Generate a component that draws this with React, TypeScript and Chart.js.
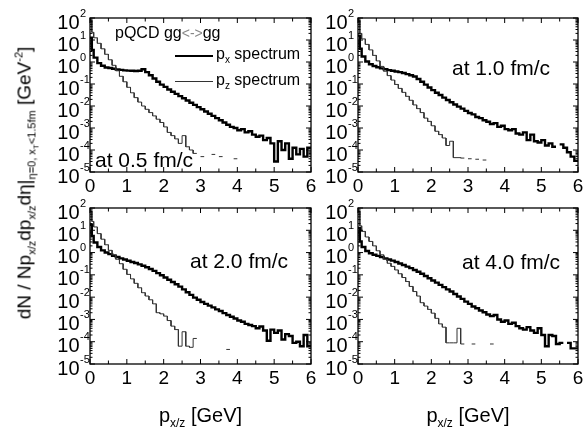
import React, { useEffect, useRef } from 'react';
import { Chart, registerables } from 'chart.js';

Chart.register(...registerables);

const W = 585;
const H = 428;
const FONT = "'Liberation Sans', Arial, Helvetica, sans-serif";

// histogram bin edges (GeV)
const binEdges = [0, 0.05, 0.1, 0.2, 0.3, 0.4, 0.5, 0.6, 0.7, 0.8, 0.9, 1.0, 1.1, 1.2, 1.3, 1.4, 1.5, 1.6, 1.7, 1.8, 1.9, 2.0, 2.1, 2.2, 2.3, 2.4, 2.5, 2.6, 2.7, 2.8, 2.9, 3.0, 3.1, 3.2, 3.3, 3.4, 3.5, 3.6, 3.7, 3.8, 3.9, 4.0, 4.1, 4.2, 4.3, 4.4, 4.5, 4.6, 4.7, 4.8, 4.9, 5.0, 5.1, 5.2, 5.3, 5.4, 5.5, 5.6, 5.7, 5.8, 5.9, 6.0];

const xTickLabels = ['0', '1', '2', '3', '4', '5', '6'];
const yTickExponents = ['-5', '-4', '-3', '-2', '-1', '0', '1', '2'];

// t = 0.5 fm/c
const pxA = [12.6, 3.55, 1.58, 0.891, 0.676, 0.562, 0.537, 0.490, 0.457, 0.437,
  0.417, 0.407, 0.398, 0.389, 0.398, 0.468, 0.347, 0.251, 0.178, 0.126,
  0.0933, 0.0741, 0.0562, 0.0447, 0.0355, 0.0282, 0.0224, 0.0178, 0.0141, 0.0112,
  0.00891, 0.00708, 0.00562, 0.00447, 0.00355, 0.00282, 0.00224, 0.00178, 0.00141, 0.00112,
  0.00100, 7.9e-4, 8.9e-4, 6.3e-4, 7.1e-4, 5.0e-4, 4.0e-4, 4.5e-4, 2.8e-4, 3.5e-4,
  2.0e-4, 3.0e-5, 2.5e-4, 1.0e-4, 2.0e-4, 4.0e-5, 1.26e-4, 6.3e-5, 1.12e-4, 5.0e-5,
  1.26e-4];
const pzA = [79, 22.4, 12.6, 7.08, 3.98, 2.24, 1.26, 0.708, 0.398, 0.224,
  0.126, 0.0708, 0.0398, 0.0240, 0.0151, 0.0100, 0.00708, 0.00501, 0.00355, 0.00251,
  0.00178, 0.00112, 6.3e-4, 4.5e-4, 3.2e-4, 2.0e-4, 4.5e-4, 1.4e-4, 1.0e-4, 7.0e-5,
  null, 5.0e-5, null, null, 6.3e-5, null, 5.0e-5, null, null, null,
  4.0e-5, null, null, null, null, null, null, null, null, null,
  null, null, null, null, null, null, null, null, null, null,
  null];

// t = 1.0 fm/c
const pxB = [15.8, 3.98, 1.78, 1.05, 0.794, 0.661, 0.575, 0.513, 0.468, 0.427,
  0.398, 0.372, 0.347, 0.316, 0.282, 0.251, 0.219, 0.170, 0.126, 0.0933,
  0.0692, 0.0525, 0.0398, 0.0316, 0.0240, 0.0186, 0.0148, 0.0117, 0.00933, 0.00759,
  0.00603, 0.00479, 0.00417, 0.00316, 0.00282, 0.00224, 0.00191, 0.00151, 0.00166, 0.00112,
  0.00126, 8.9e-4, 7.9e-4, 8.9e-4, 5.6e-4, 5.0e-4, 6.3e-4, 2.8e-4, 5.0e-4, 2.5e-4,
  2.2e-4, 2.8e-4, 1.6e-4, 2.0e-4, 1.4e-4, null, 1.8e-4, 1.26e-4, 7.9e-5, 5.0e-5,
  3.2e-5];
const pzB = [79, 20, 11.2, 6.31, 3.55, 2.0, 1.12, 0.631, 0.380, 0.240,
  0.151, 0.0955, 0.0631, 0.0417, 0.0275, 0.0182, 0.0112, 0.00759, 0.00501, 0.00282,
  0.00200, 0.00126, 7.1e-4, 5.0e-4, 3.5e-4, 1.6e-4, 2.5e-4, 4.5e-5, 4.5e-5, 4.3e-5,
  null, 4.0e-5, null, 3.8e-5, null, 3.5e-5, null, null, null, null,
  null, null, null, null, null, null, null, null, null, null,
  null, null, null, null, null, null, null, null, null, null,
  null];

// t = 2.0 fm/c
const pxC = [17.8, 5.62, 2.82, 1.78, 1.26, 1.0, 0.851, 0.724, 0.631, 0.550,
  0.490, 0.427, 0.380, 0.339, 0.295, 0.257, 0.219, 0.182, 0.151, 0.120,
  0.0955, 0.0759, 0.0603, 0.0479, 0.0380, 0.0295, 0.0224, 0.0166, 0.0126, 0.00955,
  0.00759, 0.00603, 0.00501, 0.00417, 0.00347, 0.00282, 0.00240, 0.00191, 0.00158, 0.00132,
  0.00110, 8.9e-4, 7.9e-4, 6.3e-4, 5.6e-4, 5.0e-4, 4.0e-4, 4.8e-4, 3.2e-4, 1.1e-4,
  3.5e-4, 2.5e-4, 3.2e-4, 1.26e-4, 2.2e-4, 1.8e-4, 8.9e-5, 1.0e-4, 6.3e-5, 2.0e-4,
  6.3e-5];
const pzC = [70.8, 25.1, 14.1, 7.08, 3.98, 2.24, 1.26, 0.794, 0.501, 0.316,
  0.178, 0.105, 0.0661, 0.0417, 0.0263, 0.0158, 0.0112, 0.00759, 0.00501, 0.00200,
  0.00178, 0.00141, 8.9e-4, 5.0e-4, 3.5e-4, 6.3e-5, 2.8e-4, 6.3e-5, 5.6e-5, 1.4e-4,
  null, null, null, null, null, null, null, null, 4.5e-5, null,
  null, null, null, null, null, null, null, null, null, null,
  null, null, null, null, null, null, null, null, null, null,
  null];

// t = 4.0 fm/c
const pxD = [12.6, 3.16, 1.78, 1.17, 0.933, 0.794, 0.708, 0.631, 0.550, 0.490,
  0.437, 0.380, 0.324, 0.275, 0.234, 0.200, 0.166, 0.138, 0.112, 0.0891,
  0.0708, 0.0562, 0.0447, 0.0355, 0.0282, 0.0224, 0.0178, 0.0138, 0.0107, 0.00832,
  0.00631, 0.00501, 0.00380, 0.00316, 0.00251, 0.00209, 0.00166, 0.00141, 0.00158, 0.00100,
  7.9e-4, 8.9e-4, 6.3e-4, 7.1e-4, 5.0e-4, 4.0e-4, 3.5e-4, 4.5e-4, 3.2e-4, 2.5e-4,
  4.0e-4, 2.0e-4, 6.3e-5, 2.0e-4, 1.8e-4, 7.9e-5, 8.9e-5, null, 8.9e-5, 5.0e-5,
  5.0e-5];
const pzD = [70.8, 15.8, 8.91, 5.01, 3.16, 2.0, 1.20, 0.794, 0.501, 0.331,
  0.240, 0.166, 0.112, 0.0759, 0.0501, 0.0302, 0.0178, 0.0112, 0.00562, 0.00398,
  0.00282, 0.00191, 0.00112, 6.3e-4, 4.5e-4, 8.9e-5, 8.9e-5, 8.9e-5, 4.0e-4, 7.9e-5,
  null, null, 7.9e-5, null, null, null, null, 7.9e-5, null, null,
  null, null, null, null, null, null, null, null, null, null,
  null, null, null, null, null, null, null, null, null, null,
  null];

type Area = { left: number; top: number; right: number; bottom: number };

const panelAreas: Area[] = [
  { left: 90, top: 18, right: 311, bottom: 172 },
  { left: 358, top: 18, right: 578, bottom: 172 },
  { left: 90, top: 208, right: 311, bottom: 364 },
  { left: 358, top: 208, right: 578, bottom: 364 },
];
const panelSeries = [
  { px: pxA, pz: pzA },
  { px: pxB, pz: pzB },
  { px: pxC, pz: pzC },
  { px: pxD, pz: pzD },
];

function histPoints(vals: (number | null)[]) {
  const pts: { x: number; y: number | null }[] = [];
  vals.forEach((v, i) => {
    const a = binEdges[i];
    const b = binEdges[i + 1];
    if (v == null) pts.push({ x: (a + b) / 2, y: null });
    else {
      pts.push({ x: a, y: v });
      pts.push({ x: b, y: v });
    }
  });
  return pts;
}

const framePlugin = {
  id: 'frameTicks',
  afterDraw(chart: any) {
    const { ctx, chartArea: ca } = chart;
    const xs = chart.scales.x;
    const ys = chart.scales.y;
    ctx.save();
    ctx.strokeStyle = '#000';
    ctx.lineWidth = 1.3;
    ctx.strokeRect(ca.left, ca.top, ca.right - ca.left, ca.bottom - ca.top);
    ctx.lineWidth = 1;
    const seg = (x1: number, y1: number, x2: number, y2: number) => {
      ctx.beginPath();
      ctx.moveTo(x1, y1);
      ctx.lineTo(x2, y2);
      ctx.stroke();
    };
    for (let k = 0; k <= 12; k++) {
      const px = xs.getPixelForValue(k * 0.5);
      const len = k % 2 === 0 ? 5 : 3.5;
      seg(px, ca.bottom, px, ca.bottom - len);
      seg(px, ca.top, px, ca.top + len);
    }
    for (let e = -5; e <= 2; e++) {
      const py = ys.getPixelForValue(Math.pow(10, e));
      seg(ca.left, py, ca.left + 5, py);
      seg(ca.right, py, ca.right - 5, py);
      if (e < 2) {
        for (let m = 2; m <= 9; m++) {
          const pm = ys.getPixelForValue(m * Math.pow(10, e));
          seg(ca.left, pm, ca.left + 2.5, pm);
          seg(ca.right, pm, ca.right - 2.5, pm);
        }
      }
    }
    ctx.fillStyle = '#000';
    ctx.textBaseline = 'alphabetic';
    yTickExponents.forEach((ex) => {
      const py = ys.getPixelForValue(Math.pow(10, Number(ex)));
      ctx.font = `20px ${FONT}`;
      ctx.textAlign = 'right';
      ctx.fillText('10', ca.left - 10.5, py + 10.6);
      ctx.font = `11px ${FONT}`;
      ctx.textAlign = 'left';
      ctx.fillText(ex, ca.left - 10, py - 1.4);
    });
    ctx.font = `19px ${FONT}`;
    ctx.textAlign = 'center';
    xTickLabels.forEach((t) => {
      const px = xs.getPixelForValue(Number(t));
      ctx.fillText(t, px, ca.bottom + 19.6);
    });
    ctx.restore();
  },
};

function Panel({ idx }: { idx: number }) {
  const ref = useRef<HTMLCanvasElement | null>(null);
  useEffect(() => {
    const area = panelAreas[idx];
    const s = panelSeries[idx];
    const chart = new Chart(ref.current as HTMLCanvasElement, {
      type: 'line',
      data: {
        datasets: [
          {
            label: 'pz spectrum',
            data: histPoints(s.pz) as any,
            borderColor: '#333',
            borderWidth: 1,
            pointRadius: 0,
            spanGaps: false,
            tension: 0,
          },
          {
            label: 'px spectrum',
            data: histPoints(s.px) as any,
            borderColor: '#000',
            borderWidth: 2.4,
            pointRadius: 0,
            spanGaps: false,
            tension: 0,
          },
        ],
      },
      options: {
        responsive: false,
        animation: false,
        devicePixelRatio: 1,
        events: [],
        layout: {
          padding: { left: area.left, top: area.top, right: W - area.right, bottom: H - area.bottom },
        },
        plugins: { legend: { display: false }, tooltip: { enabled: false } },
        scales: {
          x: { type: 'linear', min: 0, max: 6, display: false },
          y: { type: 'logarithmic', min: 1e-5, max: 1e2, display: false },
        },
      },
      plugins: [framePlugin],
    } as any);
    return () => chart.destroy();
  }, [idx]);
  return (
    <canvas
      ref={ref}
      width={W}
      height={H}
      style={{ position: 'absolute', left: 0, top: 0, width: W, height: H }}
    />
  );
}

const Sub = ({ children, size = 12, dy = 5 }: any) => (
  <span style={{ position: 'relative', top: dy, fontSize: size }}>{children}</span>
);
const Sup = ({ children, size = 12, dy = -8 }: any) => (
  <span style={{ position: 'relative', top: dy, fontSize: size }}>{children}</span>
);

const txt = (size: number, left: number, baseline: number): React.CSSProperties => ({
  position: 'absolute',
  left,
  top: baseline - 0.8465 * size,
  font: `${size}px ${FONT}`,
  lineHeight: `${size}px`,
  whiteSpace: 'nowrap',
  color: '#000',
});

const panelLabels = [
  { text: 'at 0.5 fm/c', left: 95, baseline: 167 },
  { text: 'at 1.0 fm/c', left: 452, baseline: 75 },
  { text: 'at 2.0 fm/c', left: 190, baseline: 268 },
  { text: 'at 4.0 fm/c', left: 462, baseline: 268.5 },
];

export default function App() {
  return (
    <div
      style={{
        position: 'fixed',
        left: 0,
        top: 0,
        width: W,
        height: H,
        background: '#fff',
        overflow: 'hidden',
      }}
    >
      {[0, 1, 2, 3].map((i) => (
        <Panel key={i} idx={i} />
      ))}
      {panelLabels.map((p) => (
        <div key={p.text} style={txt(21, p.left, p.baseline)}>
          {p.text}
        </div>
      ))}
      <div style={txt(16, 115, 39)}>
        pQCD gg<span style={{ color: '#888', fontSize: 14 }}>&lt;-&gt;</span>gg
      </div>
      <div style={{ position: 'absolute', left: 175, top: 54.5, width: 38, height: 2.5, background: '#000' }} />
      <div style={{ position: 'absolute', left: 175, top: 81.2, width: 38, height: 1, background: '#333' }} />
      <div style={txt(16, 216, 60)}>
        p<Sub size={10} dy={4}>x</Sub> spectrum
      </div>
      <div style={txt(16, 216, 86)}>
        p<Sub size={10} dy={4}>z</Sub> spectrum
      </div>
      <div style={{ ...txt(20, 200.5, 421.7), transform: 'translateX(-50%)' }}>
        p<Sub>x/z</Sub> [GeV]
      </div>
      <div style={{ ...txt(20, 468, 421.7), transform: 'translateX(-50%)' }}>
        p<Sub>x/z</Sub> [GeV]
      </div>
      <div
        style={{
          position: 'absolute',
          left: 26,
          top: 183,
          transform: 'translate(-50%, -50%) rotate(-90deg)',
          font: `19px ${FONT}`,
          lineHeight: '19px',
          whiteSpace: 'nowrap',
          color: '#000',
        }}
      >
        dN / Np<Sub size={11}>x/z</Sub>dp<Sub size={11}>x/z</Sub>dη|
        <Sub size={11}>
          η=0, x<Sub size={8} dy={3}>T</Sub>&lt;1.5fm
        </Sub>{' '}
        [GeV<Sup size={11}>-2</Sup>]
      </div>
    </div>
  );
}
